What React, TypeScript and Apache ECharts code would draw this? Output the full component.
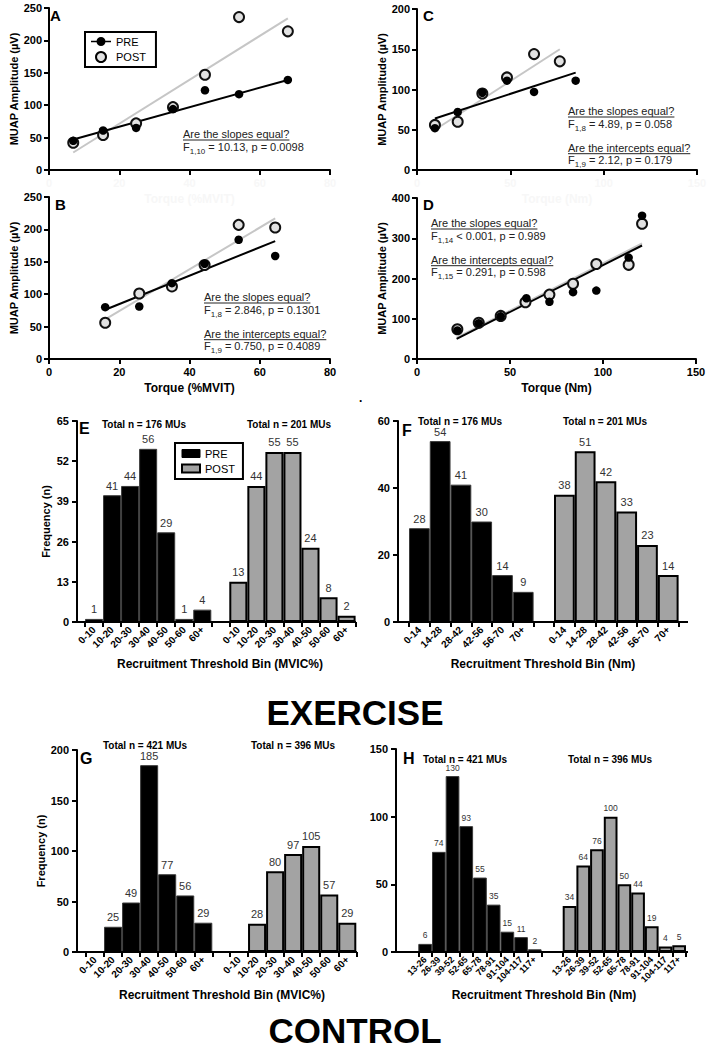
import React, { useEffect, useRef } from 'react';
import * as echarts from 'echarts';

const FONT = "'Liberation Sans', Arial, Helvetica, sans-serif";

// ---------- DATA ----------
// Scatter panels: [torque, MUAP amplitude]
const aPre = [[6.9, 45], [15.4, 61], [24.8, 65], [35.3, 94], [44.4, 123], [54.1, 117], [68, 139]];
const aPost = [[6.9, 42], [15.4, 54], [24.8, 72], [35.3, 97], [44.4, 147], [54.1, 236], [68, 214]];
const aPreFit = [[6.9, 47], [68, 139]];
const aPostFit = [[6.9, 27], [68, 234]];

const cPre = [[9.6, 52], [21.8, 72], [35, 96], [48.2, 111], [62.7, 97], [85, 111]];
const cPost = [[9.6, 56], [21.8, 60], [35, 95], [48.2, 115], [62.7, 144], [76.5, 135]];
const cPreFit = [[9.6, 64], [85, 121]];
const cPostFit = [[9.6, 50], [76.5, 150]];

const bPre = [[16, 80], [25.7, 81], [35, 117], [44.3, 147], [54, 184], [64.4, 159]];
const bPost = [[16, 56], [25.7, 101], [35, 112], [44.3, 145], [54, 207], [64.4, 203]];
const bPreFit = [[16, 76], [64.4, 182]];
const bPostFit = [[16, 61], [64.4, 217]];

const dPre = [[21.7, 71], [33.2, 89], [45, 106], [58.8, 151], [71.2, 142], [83.9, 166], [96.4, 170], [113.8, 252], [121, 356]];
const dPost = [[21.7, 74], [33.2, 90], [45, 107], [58.3, 141], [71.2, 160], [83.9, 187], [96.4, 236], [113.8, 234], [121, 336]];
const dPreFit = [[21.3, 50], [121, 282]];
const dPostFit = [[21.3, 53], [121, 287]];

// Histogram panels
const binsMVIC = ['0-10', '10-20', '20-30', '30-40', '40-50', '50-60', '60+'];
const binsNmEx = ['0-14', '14-28', '28-42', '42-56', '56-70', '70+'];
const binsNmCon = ['13-26', '26-39', '39-52', '52-65', '65-78', '78-91', '91-104', '104-117', '117+'];
const ePre = [1, 41, 44, 56, 29, 1, 4];
const ePost = [13, 44, 55, 55, 24, 8, 2];
const fPre = [28, 54, 41, 30, 14, 9];
const fPost = [38, 51, 42, 33, 23, 14];
const gPre = [0, 25, 49, 185, 77, 56, 29];
const gPost = [0, 28, 80, 97, 105, 57, 29];
const hPre = [6, 74, 130, 93, 55, 35, 15, 11, 2];
const hPost = [34, 64, 76, 100, 50, 44, 19, 4, 5];

// Texts
const slopesQ = 'Are the slopes equal?';
const interceptsQ = 'Are the intercepts equal?';
const statsA = [['1,10', ' = 10.13, p = 0.0098']];
const statsC = [['1,8', ' = 4.89, p = 0.058'], ['1,9', ' = 2.12, p = 0.179']];
const statsB = [['1,8', ' = 2.846, p = 0.1301'], ['1,9', ' = 0.750, p = 0.4089']];
const statsD = [['1,14', ' < 0.001, p = 0.989'], ['1,15', ' = 0.291, p = 0.598']];

// ---------- LAYOUT ----------
const scatterPanels = [
  { letter: 'A', grid: { left: 49, top: 8, width: 281, height: 162 }, xMax: 80, xInt: 20, yMax: 250, yInt: 50, pre: aPre, post: aPost, preFit: aPreFit, postFit: aPostFit, faint: true, xName: 'Torque (%MVIT)', letterPos: [50, 15], ann: { x: 183, y: 134, stats: statsA } },
  { letter: 'C', grid: { left: 417, top: 9, width: 280, height: 161 }, xMax: 150, xInt: 50, yMax: 200, yInt: 50, pre: cPre, post: cPost, preFit: cPreFit, postFit: cPostFit, faint: true, xName: 'Torque (Nm)', letterPos: [423, 15], ann: { x: 568, y: 111, stats: statsC } },
  { letter: 'B', grid: { left: 49, top: 197, width: 281, height: 162 }, xMax: 80, xInt: 20, yMax: 250, yInt: 50, pre: bPre, post: bPost, preFit: bPreFit, postFit: bPostFit, faint: false, xName: 'Torque (%MVIT)', letterPos: [55, 204], ann: { x: 204, y: 297, stats: statsB } },
  { letter: 'D', grid: { left: 417, top: 198, width: 279, height: 161 }, xMax: 150, xInt: 50, yMax: 400, yInt: 100, pre: dPre, post: dPost, preFit: dPreFit, postFit: dPostFit, faint: false, xName: 'Torque (Nm)', letterPos: [423, 204], ann: { x: 431, y: 223, stats: statsD } },
];

const histPanels = [
  { letter: 'E', letterPos: [79, 428], yAxisX: 77, pre: { left: 85, width: 126.3 }, post: { left: 229.3, width: 126.3 }, top: 421, height: 201, lineEnd: 356, yMax: 65, yInt: 13, bins: binsMVIC, preVals: ePre, postVals: ePost, yName: 'Frequency (n)', labelSize: 11, tickSize: 10, totals: ['Total n = 176 MUs', 'Total n = 201 MUs'], totalPos: [[102, 424], [247, 424]], xTitle: 'Recruitment Threshold Bin (MVIC%)', xTitlePos: [220, 664] },
  { letter: 'F', letterPos: [402, 430], yAxisX: 398, pre: { left: 409, width: 124.6 }, post: { left: 554, width: 124.6 }, top: 421, height: 201, lineEnd: 688, yMax: 60, yInt: 20, bins: binsNmEx, preVals: fPre, postVals: fPost, yName: '', labelSize: 11, tickSize: 10, totals: ['Total n = 176 MUs', 'Total n = 201 MUs'], totalPos: [[418, 421], [563, 421]], xTitle: 'Recruitment Threshold Bin (Nm)', xTitlePos: [543, 664] },
  { letter: 'G', letterPos: [80, 758], yAxisX: 77, pre: { left: 86, width: 126.3 }, post: { left: 230, width: 126.3 }, top: 750, height: 202, lineEnd: 357, yMax: 200, yInt: 50, bins: binsMVIC, preVals: gPre, postVals: gPost, yName: 'Frequency (n)', labelSize: 11, tickSize: 10, totals: ['Total n = 421 MUs', 'Total n = 396 MUs'], totalPos: [[103, 745], [251, 745]], xTitle: 'Recruitment Threshold Bin (MVIC%)', xTitlePos: [222, 995] },
  { letter: 'H', letterPos: [403, 758], yAxisX: 396, pre: { left: 418.3, width: 123.3 }, post: { left: 562.7, width: 123.3 }, top: 749, height: 203, lineEnd: 688, yMax: 150, yInt: 50, bins: binsNmCon, preVals: hPre, postVals: hPost, yName: '', labelSize: 8.5, tickSize: 9, totals: ['Total n = 421 MUs', 'Total n = 396 MUs'], totalPos: [[423, 759], [568, 759]], xTitle: 'Recruitment Threshold Bin (Nm)', xTitlePos: [544, 995] },
];

const BLACK_LINE = { show: true, lineStyle: { color: '#000', width: 2 } };
const TICK = { show: true, length: 5, lineStyle: { color: '#000', width: 2 } };

function measure(text: string, font: string) {
  const c = document.createElement('canvas').getContext('2d');
  if (!c) return text.length * 5.5;
  c.font = font;
  return c.measureText(text).width;
}

function buildOption() {
  const grid: any[] = [];
  const xAxis: any[] = [];
  const yAxis: any[] = [];
  const series: any[] = [];
  const graphic: any[] = [];

  const addText = (x: number, y: number, text: string, size: number, weight = 'normal', align = 'left', fill = '#000') => {
    graphic.push({ type: 'text', x, y, z: 100, style: { text, fontSize: size, fontWeight: weight, fontFamily: FONT, fill, align, verticalAlign: 'middle' } });
  };

  scatterPanels.forEach((p) => {
    const gi = grid.length;
    grid.push({ ...p.grid, containLabel: false });
    const faintColor = '#f7f7f7';
    xAxis.push({
      gridIndex: gi, type: 'value', min: 0, max: p.xMax, interval: p.xInt,
      axisLine: BLACK_LINE, axisTick: TICK, splitLine: { show: false },
      axisLabel: { fontSize: 11, fontWeight: 'bold', color: p.faint ? faintColor : '#000', margin: 7 },
      name: p.xName, nameLocation: 'middle', nameGap: 23,
      nameTextStyle: { fontSize: 12, fontWeight: 'bold', color: p.faint ? faintColor : '#000' },
    });
    yAxis.push({
      gridIndex: gi, type: 'value', min: 0, max: p.yMax, interval: p.yInt,
      axisLine: BLACK_LINE, axisTick: TICK, splitLine: { show: false },
      axisLabel: { fontSize: 11, fontWeight: 'bold', color: '#000', margin: 7 },
      name: 'MUAP Amplitude (\u00b5V)', nameLocation: 'middle', nameGap: 29,
      nameTextStyle: { fontSize: 11, fontWeight: 'bold', color: '#000' },
    });
    series.push(
      { type: 'line', name: p.letter + ' POST fit', xAxisIndex: gi, yAxisIndex: gi, data: p.postFit, symbol: 'none', lineStyle: { color: '#c6c6c6', width: 2 }, z: 1 },
      { type: 'line', name: p.letter + ' PRE fit', xAxisIndex: gi, yAxisIndex: gi, data: p.preFit, symbol: 'none', lineStyle: { color: '#000', width: 2 }, z: 2 },
      { type: 'scatter', name: 'POST', xAxisIndex: gi, yAxisIndex: gi, data: p.post, symbolSize: 10, itemStyle: { color: '#e2e2e2', borderColor: '#111', borderWidth: 2, opacity: 1 }, z: 3 },
      { type: 'scatter', name: 'PRE', xAxisIndex: gi, yAxisIndex: gi, data: p.pre, symbolSize: 8.5, itemStyle: { color: '#000', opacity: 1 }, z: 4 },
    );
    addText(p.letterPos[0], p.letterPos[1], p.letter, 15, 'bold');
    // annotations
    const qs = [slopesQ, interceptsQ];
    p.ann.stats.forEach((st: string[], k: number) => {
      const qy = p.ann.y + k * 36.7;
      addText(p.ann.x, qy, qs[k], 11, 'normal', 'left', '#222222');
      const w = measure(qs[k], `11px ${FONT}`);
      graphic.push({ type: 'line', z: 100, shape: { x1: p.ann.x, y1: qy + 6, x2: p.ann.x + w, y2: qy + 6 }, style: { stroke: '#222222', lineWidth: 1 } });
      graphic.push({
        type: 'text', x: p.ann.x, y: qy + 7, z: 100,
        style: {
          text: `{m|F}{s|${st[0]}}{m|${st[1]}}`, align: 'left', verticalAlign: 'top', fontFamily: FONT,
          rich: {
            m: { fontSize: 11, fontFamily: FONT, fill: '#222222', lineHeight: 13, verticalAlign: 'top' },
            s: { fontSize: 8, fontFamily: FONT, fill: '#222222', lineHeight: 10, padding: [6, 0, 0, 0], verticalAlign: 'top' },
          },
        },
      });
    });
  });

  histPanels.forEach((h) => {
    const giPre = grid.length;
    grid.push({ left: h.pre.left, width: h.pre.width, top: h.top, height: h.height, containLabel: false });
    const giPost = grid.length;
    grid.push({ left: h.post.left, width: h.post.width, top: h.top, height: h.height, containLabel: false });
    [giPre, giPost].forEach((gi) => {
      xAxis.push({
        gridIndex: gi, type: 'category', data: h.bins,
        axisLine: { show: false }, axisTick: { ...TICK, interval: 0 }, splitLine: { show: false },
        axisLabel: { interval: 0, rotate: 45, fontSize: h.tickSize, fontWeight: 'bold', color: '#000', margin: 6 },
      });
    });
    yAxis.push({
      gridIndex: giPre, type: 'value', min: 0, max: h.yMax, interval: h.yInt, offset: h.pre.left - h.yAxisX,
      axisLine: BLACK_LINE, axisTick: TICK, splitLine: { show: false },
      axisLabel: { fontSize: 11, fontWeight: 'bold', color: '#000', margin: 8 },
      name: h.yName, nameLocation: 'middle', nameGap: 26,
      nameTextStyle: { fontSize: 11, fontWeight: 'bold', color: '#000' },
    });
    yAxis.push({ gridIndex: giPost, type: 'value', min: 0, max: h.yMax, interval: h.yInt, show: false });
    const mkLabel = () => ({
      show: true, position: 'top', distance: 4, fontSize: h.labelSize, color: '#333333', fontFamily: FONT,
      textBorderWidth: 0,
      formatter: (v: any) => (v.value === 0 ? '' : String(v.value)),
    });
    series.push(
      { type: 'bar', name: 'PRE', xAxisIndex: giPre, yAxisIndex: giPre, data: h.preVals, barWidth: '100%', itemStyle: { color: '#000', borderColor: '#3a3a3a', borderWidth: 1 }, label: mkLabel() },
      { type: 'bar', name: 'POST', xAxisIndex: giPost, yAxisIndex: giPost, data: h.postVals, barWidth: '100%', itemStyle: { color: '#a3a3a3', borderColor: '#000', borderWidth: 2 }, label: mkLabel() },
    );
    const base = h.top + h.height;
    graphic.push({ type: 'line', z: 50, shape: { x1: h.yAxisX - 1, y1: base, x2: h.lineEnd, y2: base }, style: { stroke: '#000', lineWidth: 2 } });
    addText(h.letterPos[0], h.letterPos[1], h.letter, 16, 'bold');
    addText(h.totalPos[0][0], h.totalPos[0][1], h.totals[0], 10, 'bold');
    addText(h.totalPos[1][0], h.totalPos[1][1], h.totals[1], 10, 'bold');
    addText(h.xTitlePos[0], h.xTitlePos[1], h.xTitle, 12, 'bold', 'center');
  });

  addText(355, 712, 'EXERCISE', 35, 'bold', 'center');
  addText(355, 1030, 'CONTROL', 35, 'bold', 'center');
  addText(359, 398, '.', 12, 'bold');

  const legend = [
    {
      left: 85, top: 32, orient: 'vertical', selectedMode: false,
      borderColor: '#000', borderWidth: 2, padding: [4, 10, 4, 6], itemGap: 4,
      itemWidth: 20, itemHeight: 10,
      textStyle: { fontSize: 11, color: '#000', fontFamily: FONT },
      data: [
        { name: 'PRE', icon: 'path://M0,4.3 L20,4.3 L20,5.7 L0,5.7 Z M14.5,5 A4.5,4.5 0 1 1 5.5,5 A4.5,4.5 0 1 1 14.5,5 Z', itemStyle: { color: '#000', borderWidth: 0 } },
        { name: 'POST', icon: 'circle', itemStyle: { color: '#e2e2e2', borderColor: '#000', borderWidth: 2 } },
      ],
    },
    {
      left: 175, top: 443, orient: 'vertical', selectedMode: false,
      borderColor: '#000', borderWidth: 2, padding: [5, 8, 5, 6], itemGap: 4,
      itemWidth: 18, itemHeight: 8,
      textStyle: { fontSize: 11, color: '#000', fontFamily: FONT },
      data: [
        { name: 'PRE', icon: 'rect', itemStyle: { color: '#000', borderColor: '#000', borderWidth: 1 } },
        { name: 'POST', icon: 'rect', itemStyle: { color: '#a3a3a3', borderColor: '#000', borderWidth: 2 } },
      ],
    },
  ];

  return {
    animation: false,
    backgroundColor: '#fff',
    textStyle: { fontFamily: FONT },
    grid, xAxis, yAxis, series, legend,
    graphic: { elements: graphic },
  };
}

export default function App() {
  const ref = useRef<HTMLDivElement>(null);
  useEffect(() => {
    if (!ref.current) return;
    const chart = echarts.init(ref.current, null, { renderer: 'svg', width: 710, height: 1050 });
    chart.setOption(buildOption() as any);
    return () => chart.dispose();
  }, []);
  return <div ref={ref} style={{ position: 'absolute', left: 0, top: 0, width: 710, height: 1050, background: '#fff' }} />;
}
